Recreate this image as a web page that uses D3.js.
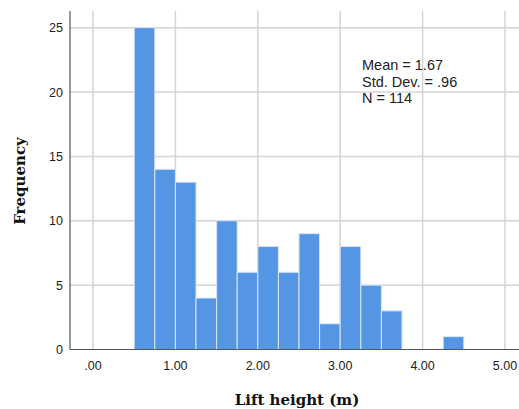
<!DOCTYPE html>
<html>
<head>
<meta charset="utf-8">
<script src="https://cdn.jsdelivr.net/npm/d3@7"></script>
<style>
  html, body { margin: 0; padding: 0; background: #fff; }
  svg { display: block; }
</style>
</head>
<body>
<svg id="chart" width="519" height="409"></svg>
<script>
// Histogram of lift heights: bins of 0.25 m
const binStarts = [0.50, 0.75, 1.00, 1.25, 1.50, 1.75, 2.00, 2.25, 2.50, 2.75, 3.00, 3.25, 3.50, 3.75, 4.00, 4.25];
const binWidth = 0.25;
const frequencies = [25, 14, 13, 4, 10, 6, 8, 6, 9, 2, 8, 5, 3, 0, 0, 1];
const xTicks = [0, 1, 2, 3, 4, 5];
const xTickLabels = [".00", "1.00", "2.00", "3.00", "4.00", "5.00"];
const yTicks = [0, 5, 10, 15, 20, 25];
const statsLines = ["Mean = 1.67", "Std. Dev. = .96", "N = 114"];

const svg = d3.select("#chart");
const plotLeft = 70, plotRight = 519, plotTop = 11, plotBottom = 349.5;

const x = d3.scaleLinear().domain([0, 5]).range([93, 505]);
const y = d3.scaleLinear().domain([0, 25]).range([plotBottom, 27.7]);

// grid lines
svg.append("g").selectAll("line").data(xTicks).join("line")
  .attr("x1", d => x(d)).attr("x2", d => x(d))
  .attr("y1", plotTop).attr("y2", plotBottom)
  .attr("stroke", "#d4d4d4").attr("stroke-width", 1.5);
svg.append("g").selectAll("line").data(yTicks.filter(d => d > 0)).join("line")
  .attr("x1", plotLeft).attr("x2", plotRight)
  .attr("y1", d => y(d)).attr("y2", d => y(d))
  .attr("stroke", "#d4d4d4").attr("stroke-width", 1.5);

// bars
svg.append("g").selectAll("rect")
  .data(binStarts.map((s, i) => ({s, f: frequencies[i]})).filter(d => d.f > 0))
  .join("rect")
  .attr("x", d => x(d.s))
  .attr("width", d => x(d.s + binWidth) - x(d.s))
  .attr("y", d => y(d.f))
  .attr("height", d => y(0) - y(d.f))
  .attr("fill", "#5596e4")
  .attr("stroke", "#d6e6f8")
  .attr("stroke-width", 1);

// axis lines
svg.append("line").attr("x1", plotLeft).attr("x2", plotLeft).attr("y1", plotTop).attr("y2", plotBottom)
  .attr("stroke", "#555").attr("stroke-width", 1.2);
svg.append("line").attr("x1", plotLeft).attr("x2", plotRight).attr("y1", plotBottom).attr("y2", plotBottom)
  .attr("stroke", "#555").attr("stroke-width", 1.2);

// y tick labels
svg.append("g").selectAll("text").data(yTicks).join("text")
  .attr("x", 63).attr("y", d => y(d)).attr("dy", "0.36em")
  .attr("text-anchor", "end")
  .attr("font-family", "Liberation Sans, Arial, sans-serif").attr("font-size", 12.5)
  .attr("fill", "#222")
  .text(d => d);

// x tick labels
svg.append("g").selectAll("text").data(xTicks).join("text")
  .attr("x", d => x(d)).attr("y", 370)
  .attr("text-anchor", "middle")
  .attr("font-family", "Liberation Sans, Arial, sans-serif").attr("font-size", 12.5)
  .attr("fill", "#222")
  .text((d, i) => xTickLabels[i]);

// axis titles
svg.append("text").attr("x", 297).attr("y", 405)
  .attr("text-anchor", "middle")
  .attr("font-family", "DejaVu Serif, serif").attr("font-weight", "bold").attr("font-size", 15)
  .attr("fill", "#111")
  .text("Lift height (m)");
svg.append("text")
  .attr("transform", "translate(25,181) rotate(-90)")
  .attr("text-anchor", "middle")
  .attr("font-family", "DejaVu Serif, serif").attr("font-weight", "bold").attr("font-size", 15)
  .attr("fill", "#111")
  .text("Frequency");

// summary statistics
svg.append("g").selectAll("text").data(statsLines).join("text")
  .attr("x", 362).attr("y", (d, i) => 70 + i * 16.5)
  .attr("font-family", "Liberation Sans, Arial, sans-serif").attr("font-size", 14.5)
  .attr("fill", "#222")
  .text(d => d);
</script>
</body>
</html>
